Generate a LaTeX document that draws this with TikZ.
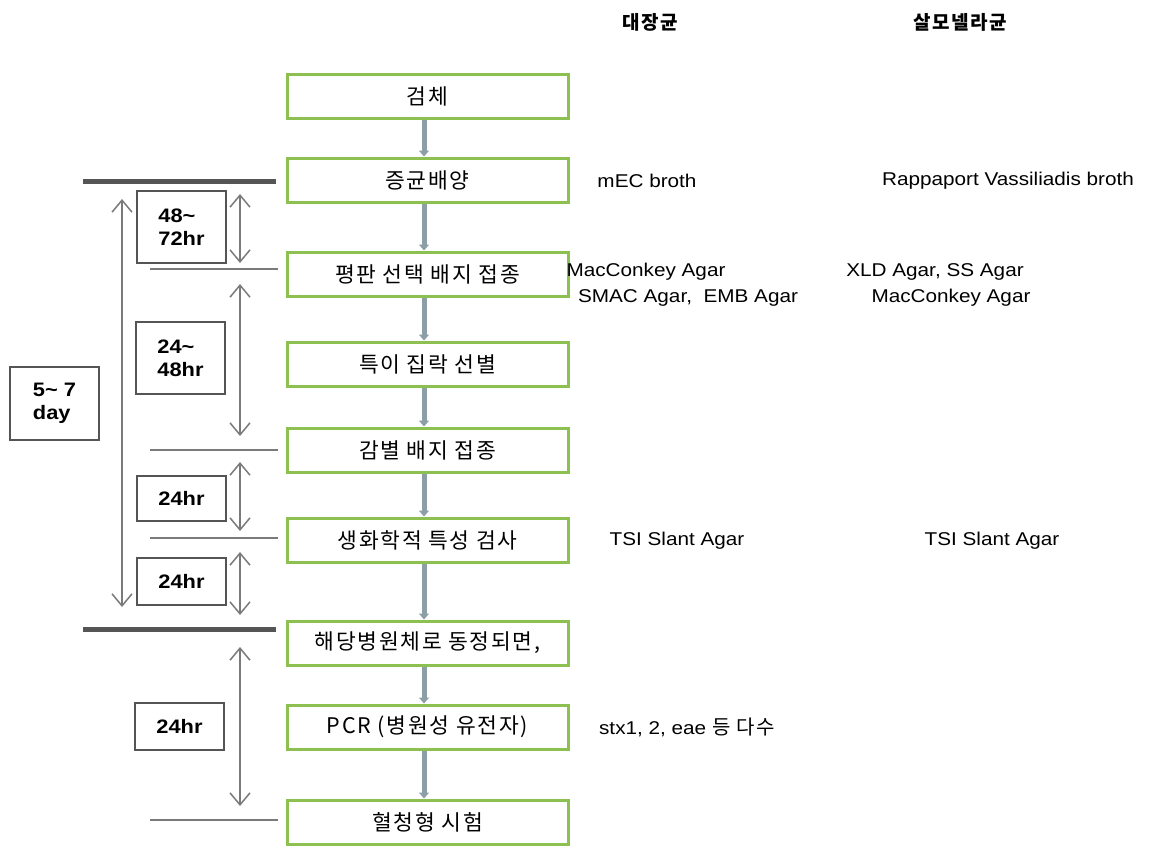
\documentclass[tikz,border=0pt]{standalone}
\usepackage{fontspec}
\setmainfont[LetterSpace=8]{Noto Sans CJK KR}
\newfontfamily\lat[FakeStretch=1.12]{Liberation Sans}
\usetikzlibrary{arrows.meta}
\definecolor{boxgreen}{HTML}{8CC152}
\definecolor{flowgray}{HTML}{8C9EA6}
\definecolor{linegray}{HTML}{7A7A7A}
\definecolor{darkline}{HTML}{555555}
\begin{document}
\begin{tikzpicture}[x=1pt,y=-1pt,
  stepbox/.style={draw=boxgreen, line width=3pt, minimum width=281pt, minimum height=44pt, inner sep=0pt, font=\fontsize{21.5}{24}\selectfont},
  flow/.style={draw=flowgray, line width=5pt, -{Triangle[length=6pt,width=10pt]}},
  timebox/.style={draw=darkline, line width=1.2pt, fill=white, minimum width=89pt, inner sep=0pt, align=left, font=\lat\bfseries\fontsize{19.5}{23}\selectfont},
  dur/.style={draw=linegray, line width=1.5pt, {Straight Barb[length=12pt,width=20pt]}-{Straight Barb[length=12pt,width=20pt]}},
  thickline/.style={draw=darkline, line width=5pt},
  thinline/.style={draw=linegray, line width=1.5pt},
  head/.style={font=\bfseries\fontsize{19}{22}\selectfont},
  med/.style={font=\lat\fontsize{18.5}{26}\selectfont, inner sep=0pt, align=center}]
\useasboundingbox (0,0) rectangle (1153,847);

% flow boxes
\node[stepbox] (b1) at (427.5,96) {검체};
\node[stepbox] (b2) at (427.5,180) {증균배양};
\node[stepbox] (b3) at (427.5,274) {평판 선택 배지 접종};
\node[stepbox] (b4) at (427.5,364) {특이 집락 선별};
\node[stepbox] (b5) at (427.5,450) {감별 배지 접종};
\node[stepbox] (b6) at (427.5,540) {생화학적 특성 검사};
\node[stepbox] (b7) at (427.5,643) {해당병원체로 동정되면,};
\node[stepbox] (b8) at (427.5,727) {PCR (병원성 유전자)};
\node[stepbox] (b9) at (427.5,822) {혈청형 시험};

\foreach \a/\b in {b1/b2,b2/b3,b3/b4,b4/b5,b5/b6,b6/b7,b7/b8,b8/b9}
  \draw[flow] ([xshift=-3.5pt]\a.south) -- ([xshift=-3.5pt]\b.north);

% horizontal separators
\coordinate (t1a) at (83,181); \coordinate (t1b) at (276,181);
\coordinate (t2a) at (83,629); \coordinate (t2b) at (276,629);
\draw[thickline] (t1a) -- (t1b);
\draw[thickline] (t2a) -- (t2b);
\coordinate (s1a) at (150,269); \coordinate (s1b) at (278,269);
\coordinate (s2a) at (150,450); \coordinate (s2b) at (278,450);
\coordinate (s3a) at (150,538); \coordinate (s3b) at (278,538);
\coordinate (s4a) at (150,820); \coordinate (s4b) at (278,820);
\foreach \p in {1,2,3,4} \draw[thinline] (s\p a) -- (s\p b);

% duration arrows
\coordinate (L1) at (122,199); \coordinate (L2) at (122,607);
\draw[dur] (L1) -- (L2);
\coordinate (d1a) at (240,194); \coordinate (d1b) at (240,263);
\coordinate (d2a) at (240,284); \coordinate (d2b) at (240,436);
\coordinate (d3a) at (240,462); \coordinate (d3b) at (240,531);
\coordinate (d4a) at (240,552); \coordinate (d4b) at (240,615);
\coordinate (d5a) at (240,647); \coordinate (d5b) at (240,806);
\foreach \p in {1,...,5} \draw[dur] (d\p a) -- (d\p b);

% time boxes
\node[timebox, minimum height=72pt] (tb1) at (181.5,227) {48\textasciitilde\\72hr};
\node[timebox, minimum height=72pt] (tb2) at (180.5,358) {24\textasciitilde\\48hr};
\node[timebox, minimum height=73pt] (tb3) at (54.5,403.5) {5\textasciitilde\ 7\\day};
\node[timebox, minimum height=45pt] (tb4) at (181.5,498.5) {24hr};
\node[timebox, minimum height=47pt] (tb5) at (181.5,581.5) {24hr};
\node[timebox, minimum height=47pt] (tb6) at (179.5,726.5) {24hr};

% column headers
\node[head] (h1) at (650,22) {대장균};
\node[head] (h2) at (960,22) {살모넬라균};

% media
\node[med] (m1) at (647,181) {mEC broth};
\node[med] (m2) at (1008,181) {Rappaport Vassiliadis broth};
\node[med] (m3) at (646,272) {MacConkey Agar};
\node[med] (m4) at (688,298) {SMAC Agar,\ \ EMB Agar};
\node[med] (m5) at (935,272) {XLD Agar, SS Agar};
\node[med] (m6) at (951,298) {MacConkey Agar};
\node[med] (m7) at (677,541) {TSI Slant Agar};
\node[med] (m8) at (992,541) {TSI Slant Agar};
\node[med] (m9) at (687,727) {stx1, 2, eae {\rmfamily\fontsize{20}{22}\selectfont 등 다수}};
\end{tikzpicture}
\end{document}
